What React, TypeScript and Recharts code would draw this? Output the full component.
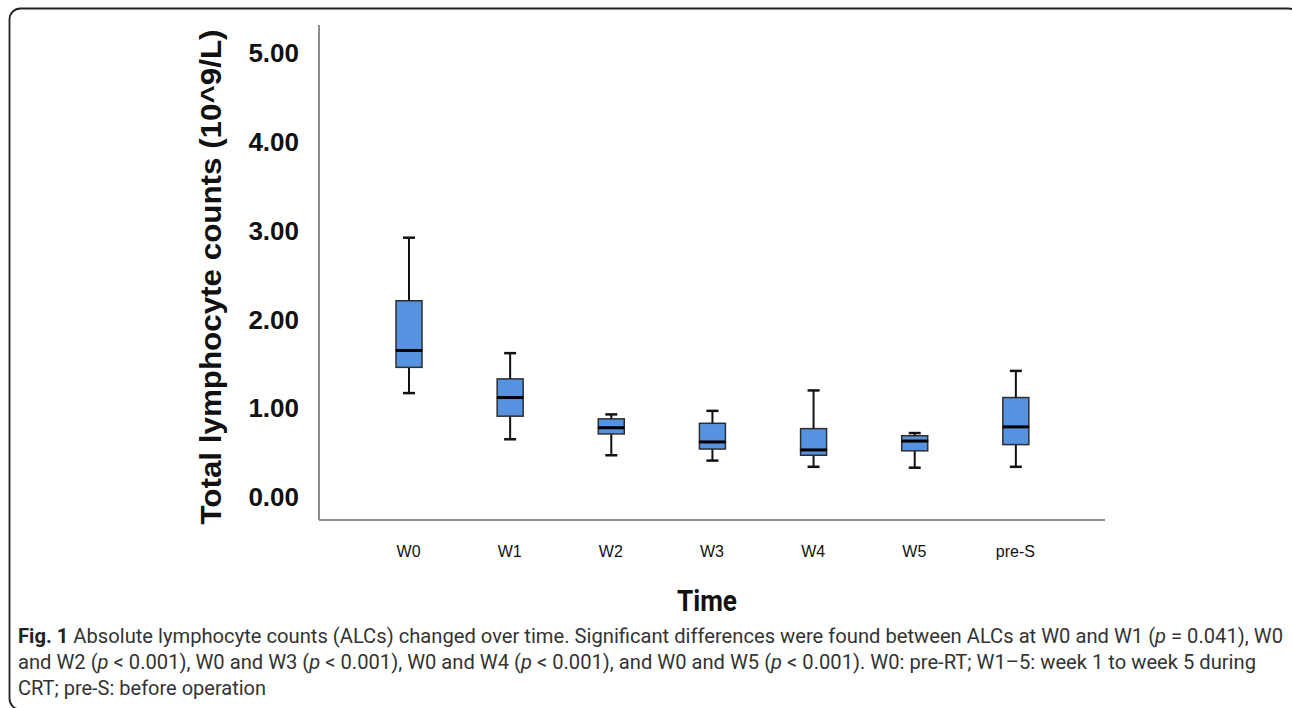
import React from "react";
import { ComposedChart, Bar, XAxis, YAxis } from "recharts";

// box plot statistics (10^9/L)
const CATEGORIES = ["W0", "W1", "W2", "W3", "W4", "W5", "pre-S"];
const MINS = [1.17, 0.65, 0.47, 0.41, 0.34, 0.33, 0.34];
const Q1S = [1.46, 0.91, 0.71, 0.54, 0.47, 0.52, 0.59];
const MEDIANS = [1.65, 1.12, 0.78, 0.62, 0.53, 0.63, 0.79];
const Q3S = [2.21, 1.33, 0.88, 0.83, 0.77, 0.69, 1.12];
const MAXS = [2.92, 1.62, 0.93, 0.97, 1.2, 0.72, 1.42];
const Y_TICKS = [0, 1, 2, 3, 4, 5];

const BOX_FILL = "#5592df";
const BOX_STROKE = "#2e2e2e";
const AXIS_GRAY = "#8c8c8c";
const ARIAL = "'Liberation Sans', Arial, sans-serif";
const NARROW = "'Liberation Sans Narrow', Roboto, 'Liberation Sans', sans-serif";

// stacked segments: base (invisible) + lower whisker + lower box + upper box + upper whisker
const rows = CATEGORIES.map((name, i) => ({
  name,
  base: MINS[i],
  lowWhisker: Q1S[i] - MINS[i],
  lowBox: MEDIANS[i] - Q1S[i],
  highBox: Q3S[i] - MEDIANS[i],
  highWhisker: MAXS[i] - Q3S[i],
}));

type ShapeProps = { x?: number; y?: number; width?: number; height?: number };

function LowWhisker(props: ShapeProps) {
  const { x = 0, y = 0, width = 0, height = 0 } = props;
  const cx = x + width / 2;
  return (
    <g>
      <line x1={cx} x2={cx} y1={y} y2={y + height} stroke="#111" strokeWidth={2} />
      <line x1={cx - 6} x2={cx + 6} y1={y + height} y2={y + height} stroke="#111" strokeWidth={2.5} />
    </g>
  );
}

function HighWhisker(props: ShapeProps) {
  const { x = 0, y = 0, width = 0, height = 0 } = props;
  const cx = x + width / 2;
  return (
    <g>
      <line x1={cx} x2={cx} y1={y} y2={y + height} stroke="#111" strokeWidth={2} />
      <line x1={cx - 6} x2={cx + 6} y1={y} y2={y} stroke="#111" strokeWidth={2.5} />
    </g>
  );
}

function LowBox(props: ShapeProps) {
  const { x = 0, y = 0, width = 0, height = 0 } = props;
  return <rect x={x} y={y} width={width} height={height} fill={BOX_FILL} stroke={BOX_STROKE} strokeWidth={1.5} />;
}

function HighBox(props: ShapeProps) {
  const { x = 0, y = 0, width = 0, height = 0 } = props;
  return (
    <g>
      <rect x={x} y={y} width={width} height={height} fill={BOX_FILL} stroke={BOX_STROKE} strokeWidth={1.5} />
      <line x1={x} x2={x + width} y1={y + height} y2={y + height} stroke="#000" strokeWidth={3} />
    </g>
  );
}

function XTick(props: any) {
  const { x, y, payload } = props;
  return (
    <text x={x} y={y} dy="0.71em" textAnchor="middle" fontFamily={ARIAL} fontSize={16} fill="#111">
      {payload.value}
    </text>
  );
}

export default function App() {
  return (
    <div style={{ position: "absolute", left: 0, top: 0, width: 1292, height: 708, background: "#fff" }}>
      <ComposedChart
        width={1292}
        height={708}
        data={rows}
        margin={{ top: 25, right: 187, bottom: 0, left: 0 }}
      >
        <XAxis
          dataKey="name"
          height={188}
          padding={{ left: 39, right: 39 }}
          axisLine={{ stroke: AXIS_GRAY, strokeWidth: 2 }}
          tickLine={false}
          tickMargin={20}
          tick={<XTick />}
        />
        <YAxis
          type="number"
          width={319}
          domain={[-0.259, 5.315]}
          ticks={Y_TICKS}
          allowDataOverflow
          axisLine={{ stroke: AXIS_GRAY, strokeWidth: 2 }}
          tickLine={false}
          tickMargin={14}
          tickFormatter={(v: number) => v.toFixed(2)}
          tick={{ fontFamily: ARIAL, fontSize: 26, fontWeight: "bold", fill: "#111" }}
        />
        <Bar dataKey="base" stackId="box" barSize={26} fill="transparent" isAnimationActive={false} />
        <Bar dataKey="lowWhisker" stackId="box" barSize={26} shape={<LowWhisker />} isAnimationActive={false} />
        <Bar dataKey="lowBox" stackId="box" barSize={26} shape={<LowBox />} isAnimationActive={false} />
        <Bar dataKey="highBox" stackId="box" barSize={26} shape={<HighBox />} isAnimationActive={false} />
        <Bar dataKey="highWhisker" stackId="box" barSize={26} shape={<HighWhisker />} isAnimationActive={false} />
      </ComposedChart>

      <svg
        width={1292}
        height={708}
        style={{ position: "absolute", left: 0, top: 0, pointerEvents: "none" }}
      >
        <rect x={9.5} y={8.5} width={1290} height={701} rx={11} fill="none" stroke="#222" strokeWidth={1.8} />
        <text
          transform="translate(221,277) rotate(-90)"
          textAnchor="middle"
          fontFamily={ARIAL}
          fontSize={30}
          fontWeight="bold"
          fill="#111"
          textLength={495}
          lengthAdjust="spacingAndGlyphs"
        >
          Total lymphocyte counts (10^9/L)
        </text>
        <text
          x={707}
          y={611}
          textAnchor="middle"
          fontFamily={NARROW}
          fontSize={30}
          fontWeight="bold"
          fill="#111"
          textLength={60}
          lengthAdjust="spacingAndGlyphs"
        >
          Time
        </text>
        <g fontFamily={NARROW} fontSize={20} fill="#333">
          <text x={18} y={643} textLength={1265} lengthAdjust="spacingAndGlyphs">
            <tspan fontWeight="bold" fill="#222">Fig. 1</tspan>
            {" Absolute lymphocyte counts (ALCs) changed over time. Significant differences were found between ALCs at W0 and W1 ("}
            <tspan fontStyle="italic">p</tspan>
            {" = 0.041), W0"}
          </text>
          <text x={18} y={669} textLength={1238} lengthAdjust="spacingAndGlyphs">
            {"and W2 ("}
            <tspan fontStyle="italic">p</tspan>
            {" < 0.001), W0 and W3 ("}
            <tspan fontStyle="italic">p</tspan>
            {" < 0.001), W0 and W4 ("}
            <tspan fontStyle="italic">p</tspan>
            {" < 0.001), and W0 and W5 ("}
            <tspan fontStyle="italic">p</tspan>
            {" < 0.001). W0: pre-RT; W1–5: week 1 to week 5 during"}
          </text>
          <text x={18} y={695} textLength={248} lengthAdjust="spacingAndGlyphs">
            CRT; pre-S: before operation
          </text>
        </g>
      </svg>
    </div>
  );
}
